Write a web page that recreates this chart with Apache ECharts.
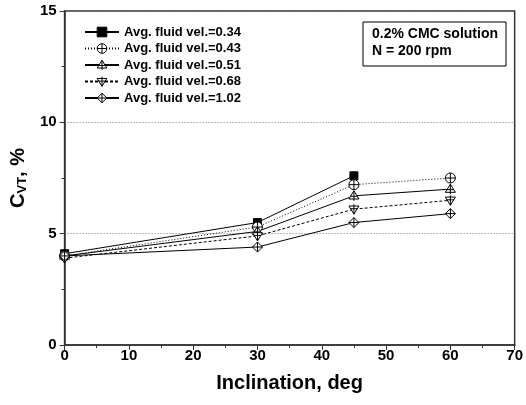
<!DOCTYPE html>
<html>
<head>
<meta charset="utf-8">
<script src="https://cdn.jsdelivr.net/npm/echarts@6/dist/echarts.min.js"></script>
<style>
html,body{margin:0;padding:0;background:#fff;}
#chart{width:526px;height:405px;}
</style>
</head>
<body>
<div id="chart"></div>
<script>
// Inclination angles (deg)
const inclination = [0, 30, 45, 60];
// Cuttings volume concentration C_VT (%) per average fluid velocity
const vel034 = [4.1, 5.5, 7.6, null];
const vel043 = [4.0, 5.3, 7.2, 7.5];
const vel051 = [4.0, 5.1, 6.7, 7.0];
const vel068 = [3.9, 4.9, 6.1, 6.5];
const vel102 = [4.0, 4.4, 5.5, 5.9];
const seriesNames = [
  'Avg. fluid vel.=0.34',
  'Avg. fluid vel.=0.43',
  'Avg. fluid vel.=0.51',
  'Avg. fluid vel.=0.68',
  'Avg. fluid vel.=1.02'
];
const xTicks = [0, 10, 20, 30, 40, 50, 60, 70];
const yTicks = [0, 5, 10, 15];

const FONT = 'Liberation Sans, Arial, sans-serif';

// Open marker shapes with a cross through them
const circlePlus = 'path://M0,-10 A10,10 0 1,1 0,10 A10,10 0 1,1 0,-10 Z M-10,0 L10,0 M0,-10 L0,10';
const triPlus = 'path://M0,-10 L10,8 L-10,8 Z M-7,2 L7,2 M0,-10 L0,12';
const triDownPlus = 'path://M-10,-8 L10,-8 L0,10 Z M-7,-2 L7,-2 M0,-12 L0,10';
const diamondPlus = 'path://M0,-10 L10,0 L0,10 L-10,0 Z M-10,0 L10,0 M0,-10 L0,10';

const markers = ['rect', circlePlus, triPlus, triDownPlus, diamondPlus];
const filledMarker = [true, false, false, false, false];
const lineTypes = ['solid', [1, 2], 'solid', [3, 2], 'solid'];
const seriesValues = [vel034, vel043, vel051, vel068, vel102];

function pairs(vals) {
  return inclination.map((x, i) => [x, vals[i]]).filter(p => p[1] != null);
}

function markerStyle(filled) {
  return { color: filled ? '#000' : '#fff', borderColor: '#000', borderWidth: 1 };
}

const series = seriesNames.map((name, k) => ({
  name: name,
  type: 'line',
  data: pairs(seriesValues[k]),
  symbol: markers[k],
  symbolSize: k === 0 ? 8 : 10,
  showAllSymbol: true,
  lineStyle: { color: '#000', width: 1, type: lineTypes[k] },
  itemStyle: markerStyle(filledMarker[k]),
  emphasis: { disabled: true },
  animation: false
}));

const legendData = seriesNames.map((name, k) => ({
  name: name,
  itemStyle: markerStyle(filledMarker[k])
}));

const chart = echarts.init(document.getElementById('chart'), null, { renderer: 'canvas' });

chart.setOption({
  animation: false,
  grid: {
    left: 62, right: 8, top: 11, bottom: 60,
    show: true, borderColor: '#333', borderWidth: 1.5, backgroundColor: 'transparent'
  },
  legend: {
    left: 84, top: 25, padding: 0,
    orient: 'vertical',
    itemWidth: 34, itemHeight: 12, itemGap: 2.5,
    textStyle: { fontFamily: FONT, fontWeight: 'bold', fontSize: 13, lineHeight: 14, color: '#000' },
    data: legendData
  },
  xAxis: {
    type: 'value',
    min: xTicks[0], max: xTicks[xTicks.length - 1], interval: 10,
    name: 'Inclination, deg',
    nameLocation: 'middle', nameGap: 28,
    nameTextStyle: { fontFamily: FONT, fontWeight: 'bold', fontSize: 20, color: '#000' },
    axisLine: { lineStyle: { color: '#333', width: 1.5 } },
    axisTick: { inside: false, length: 5, lineStyle: { color: '#333' } },
    minorTick: { show: true, splitNumber: 2, length: 3, lineStyle: { color: '#333' } },
    axisLabel: { fontFamily: FONT, fontWeight: 'bold', fontSize: 15, color: '#000', margin: 3 },
    splitLine: { show: false }
  },
  yAxis: {
    type: 'value',
    min: yTicks[0], max: yTicks[yTicks.length - 1], interval: 5,
    name: '{c|C}{s|VT}{c|, %}',
    nameLocation: 'middle', nameGap: 30, nameRotate: 90,
    nameTextStyle: {
      rich: {
        c: { fontFamily: FONT, fontWeight: 'bold', fontSize: 20, color: '#000' },
        s: { fontFamily: FONT, fontWeight: 'bold', fontSize: 13, color: '#000', padding: [9, 0, 0, 0] }
      }
    },
    axisLine: { show: true, lineStyle: { color: '#333', width: 1.5 } },
    axisTick: { show: true, inside: false, length: 5, lineStyle: { color: '#333' } },
    minorTick: { show: true, splitNumber: 2, length: 3, lineStyle: { color: '#333' } },
    axisLabel: { fontFamily: FONT, fontWeight: 'bold', fontSize: 15, color: '#000', margin: 8 },
    splitLine: { show: true, lineStyle: { color: '#777', width: 1, type: [1, 2] } }
  },
  graphic: [
    {
      type: 'rect',
      shape: { x: 363, y: 22, width: 143, height: 44 },
      style: { fill: '#fff', stroke: '#000', lineWidth: 1 },
      z: 10
    },
    {
      type: 'text',
      x: 372, y: 26,
      style: {
        text: '0.2% CMC solution\nN = 200 rpm',
        font: 'bold 14px ' + FONT,
        fill: '#000',
        lineHeight: 17
      },
      z: 11
    }
  ],
  series: series
});
</script>
</body>
</html>
